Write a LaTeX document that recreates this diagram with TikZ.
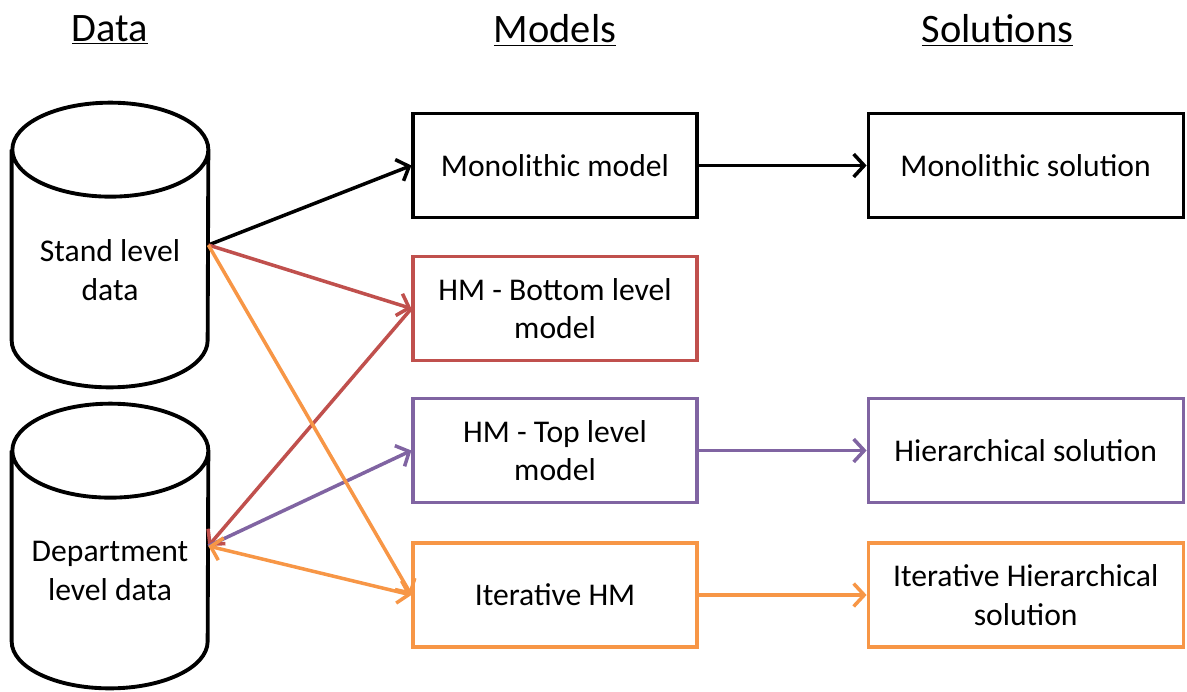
\documentclass[tikz,border=0pt]{standalone}
\usepackage{fontspec}
\setmainfont{Carlito}
\usepackage{xcolor}
\usepackage{tikz}
\usetikzlibrary{positioning,arrows.meta}
\definecolor{hmred}{RGB}{192,80,77}
\definecolor{hmpurple}{RGB}{128,100,162}
\definecolor{hmorange}{RGB}{247,150,70}

\begin{document}
\begin{tikzpicture}[every node/.style={font=\fontsize{18}{22}\selectfont},
  box/.style={draw,line width=1.8pt,minimum width=5.68cm,minimum height=2.08cm,align=center},
  solbox/.style={box,minimum width=6.3cm},
  drum/.style={line width=2.2pt},
  link/.style={->,>={Straight Barb[length=6pt,width=13pt]},line width=2pt},
  head/.style={font=\fontsize{23}{28}\selectfont}]
\useasboundingbox (0,0) rectangle (23.74,-13.82);

% column titles
\node[head] (hdata) at (2.2,-0.6) {\underline{Data}};
\node[head] (hmodels) at (11.1,-0.6) {\underline{Models}};
\node[head] (hsols) at (19.95,-0.6) {\underline{Solutions}};

% data cylinders
\node (stand) [minimum width=3.92cm,minimum height=3.8cm,inner sep=0pt] at (2.2,-4.9) {};
\draw[drum] (stand.north west) -- (stand.south west) arc[start angle=180,end angle=360,x radius=1.96cm,y radius=0.94cm]
  -- (stand.north east) arc[start angle=0,end angle=360,x radius=1.96cm,y radius=0.94cm];
\node (standtxt) [align=center] at ([yshift=-0.5cm]stand.center) {Stand level\\data};

\node (dept) [minimum width=3.92cm,minimum height=3.8cm,inner sep=0pt] at (2.2,-10.92) {};
\draw[drum] (dept.north west) -- (dept.south west) arc[start angle=180,end angle=360,x radius=1.96cm,y radius=0.94cm]
  -- (dept.north east) arc[start angle=0,end angle=360,x radius=1.96cm,y radius=0.94cm];
\node (depttxt) [align=center] at ([yshift=-0.5cm]dept.center) {Department\\level data};

% models
\node[box] (mono) at (11.1,-3.31) {Monolithic model};
\node[box,hmred] (bottom) at (11.1,-6.17) {\color{black}HM - Bottom level\\\color{black}model};
\node[box,hmpurple] (top) at (11.1,-9.01) {\color{black}HM - Top level\\\color{black}model};
\node[box,hmorange] (iter) at (11.1,-11.9) {\color{black}Iterative HM};

% solutions
\node[solbox,right=3.36cm of mono] (monosol) {Monolithic solution};
\node[solbox,hmpurple,right=3.36cm of top] (topsol) {\color{black}Hierarchical solution};
\node[solbox,hmorange,right=3.36cm of iter] (itersol) {\color{black}Iterative Hierarchical\\\color{black}solution};

% connectors
\draw[link] (stand.east) -- (mono.west);
\draw[link] (mono.east) -- (monosol.west);
\draw[link,hmred] (stand.east) -- (bottom.west);
\draw[link,hmred] (bottom.west) -- (dept.east);
\draw[link,hmpurple] (dept.east) -- (top.west);
\draw[link,hmpurple] (top.east) -- (topsol.west);
\draw[link,hmorange] (stand.east) -- (iter.west);
\draw[link,hmorange,<->] (dept.east) -- (iter.west);
\draw[link,hmorange] (iter.east) -- (itersol.west);
\end{tikzpicture}
\end{document}
